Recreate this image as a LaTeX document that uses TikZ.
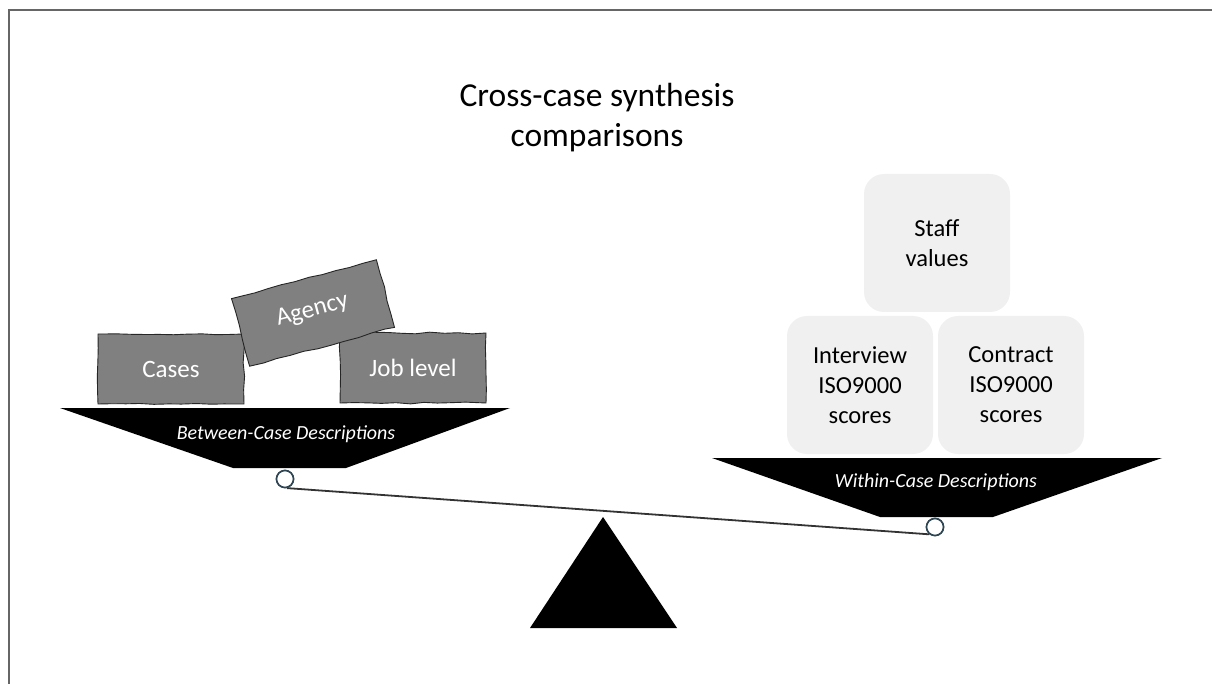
\documentclass[tikz,border=0pt]{standalone}
\usepackage{fontspec}
\setmainfont{Carlito}
\usetikzlibrary{decorations.pathmorphing}
\definecolor{boxgray}{HTML}{808080}
\definecolor{softgray}{HTML}{F0F0F0}
\definecolor{ringblue}{HTML}{2E4653}
\tikzset{
  sketchbox/.style={fill=boxgray, draw=black!85, line width=0.9pt,
    decorate, decoration={random steps, segment length=14pt, amplitude=0.9pt},
    text=white, font=\fontsize{25}{30}\selectfont,
    minimum width=#1, minimum height=70pt, inner sep=0pt},
  softbox/.style={fill=softgray, rounded corners=20pt, align=center,
    minimum width=146pt, minimum height=138pt, inner sep=0pt,
    font=\fontsize{24.5}{30}\selectfont},
  pan/.style={fill=black},
  panlabel/.style={text=white, font=\fontsize{20}{24}\selectfont\itshape},
  pivot/.style={circle, draw=ringblue, line width=1.6pt, fill=white,
    minimum size=17pt, inner sep=0pt},
  beam/.style={draw=black!80, line width=1.8pt},
  frame/.style={draw=black!60, line width=1.6pt}
}
\begin{document}
\begin{tikzpicture}[x=1pt, y=-1pt]
\useasboundingbox (0,0) rectangle (1212,684);
% cropped page frame
\draw[frame] (9,684) -- (9,10) -- (1212,10);

% title
\node[align=center, font=\fontsize{33.5}{40}\selectfont] (title) at (597,118)
  {Cross-case synthesis\\comparisons};

% balance beam and fulcrum
\node[pivot] (lc) at (285,479) {};
\node[pivot] (rc) at (935,527) {};
\draw[beam] (lc.-78) -- (rc.-128);
\node[pivot] at (lc) {};
\node[pivot] at (rc) {};
\fill (603,517) -- (677,628) -- (530,628) -- cycle;

% left pan
\fill[pan] (60,408) -- (510,408) -- (346,468) -- (233,468) -- cycle;
\node[panlabel] (between) at (286,434) {Between-Case Descriptions};

% right pan
\fill[pan] (712,458) -- (1162,458) -- (993,517) -- (880,517) -- cycle;
\node[panlabel] (within) at (936,482) {Within-Case Descriptions};

% left load: hand-drawn blocks
\node[sketchbox=146pt] (cases) at (171,369) {Cases};
\node[sketchbox=146pt] (job) at (413,368) {Job level};
\node[sketchbox=150pt, minimum height=70pt, rotate=15] (agency) at (313,313)
  {\raisebox{9pt}{Agency}};

% right load: soft rounded blocks
\node[softbox] (staff) at (937,243) {Staff\\values};
\node[softbox] (interview) at (860,385) {Interview\\ISO9000\\scores};
\node[softbox] (contract) at (1011,385) {Contract\\ISO9000\\scores};
\end{tikzpicture}
\end{document}
